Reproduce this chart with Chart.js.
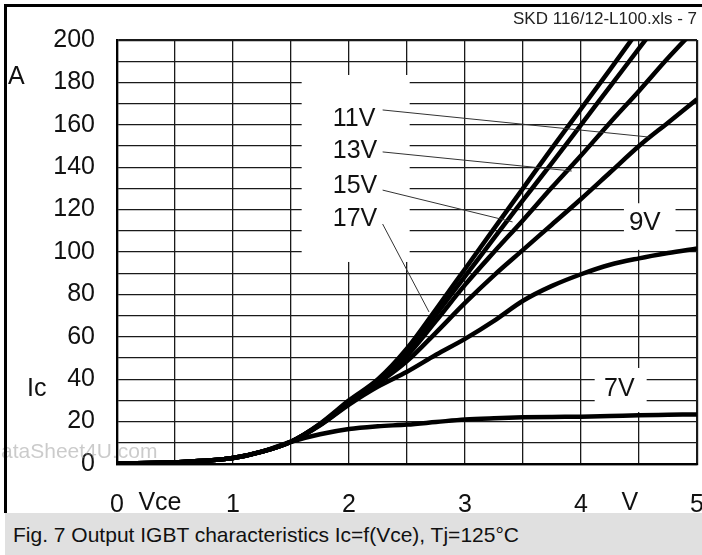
<!DOCTYPE html>
<html>
<head>
<meta charset="utf-8">
<script src="https://cdn.jsdelivr.net/npm/chart.js@4.4.0/dist/chart.umd.min.js"></script>
<style>
  body { margin: 0; background: #fff; }
  #wrap { position: relative; width: 702px; height: 555px; overflow: hidden; font-family: "Liberation Sans", Arial, sans-serif; }
  #chartBox { position: absolute; left: 0; top: 0; width: 702px; height: 513px; }
  .frameTop { position: absolute; left: 4px; top: 4px; width: 698px; height: 3px; background: #000; }
  .frameLeft { position: absolute; left: 4px; top: 4px; width: 3px; height: 509px; background: #000; }
  #header { position: absolute; right: 5px; top: 9px; font-size: 17px; color: #222; }
  #caption { position: absolute; left: 5px; top: 513px; width: 697px; height: 42px; background: #e0e0e0;
             font-size: 21px; line-height: 44px; padding-left: 8px; box-sizing: border-box; color: #111; white-space: nowrap; }
</style>
</head>
<body>
<div id="wrap">
  <div id="chartBox"><canvas id="igbtChart"></canvas></div>
  <div class="frameTop"></div>
  <div class="frameLeft"></div>
  <div id="header">SKD 116/12-L100.xls - 7</div>
  <div id="caption">Fig. 7 Output IGBT characteristics Ic=f(Vce), Tj=125°C</div>
</div>
<script>
// --- data (Vce in V, Ic in A) ---
const vce   = [0, 0.5, 1, 1.25, 1.5, 1.75, 2, 2.25, 2.5, 2.75, 3, 3.25, 3.5, 3.75, 4, 4.25, 4.5, 4.75, 5];
const ic17V = [0.3, 0.8, 2.8, 5.8, 10.5, 19, 30, 40, 54.5, 73, 92, 111, 130, 149, 167.5, 186, 205, 224, 243];
const ic15V = [0.3, 0.8, 2.8, 5.8, 10.5, 18.8, 29.5, 39.5, 52.5, 70.5, 88.5, 106.5, 124.5, 142, 160, 178, 196, 214, 232];
const ic13V = [0.3, 0.8, 2.8, 5.8, 10.5, 18.6, 29, 39, 51, 67.5, 84.5, 100, 115, 130.5, 145.5, 161, 176, 191.5, 206];
const ic11V = [0.3, 0.8, 2.8, 5.8, 10.5, 18.4, 28.5, 38, 48.5, 62, 76, 89, 101, 113, 125, 137.5, 150, 161, 172];
const ic9V  = [0.3, 0.8, 2.8, 5.8, 10.5, 18.2, 28, 36.5, 43.5, 51.5, 59, 67.5, 77, 84, 89.5, 94, 97, 99.5, 101.7];
const ic7V  = [0.3, 0.8, 2.8, 5.8, 10.5, 14, 16.5, 17.8, 18.6, 19.8, 21, 21.6, 22, 22.2, 22.3, 22.6, 23, 23.2, 23.4];

const seriesList = [ic17V, ic15V, ic13V, ic11V, ic9V, ic7V];
const gateNames  = ['17V', '15V', '13V', '11V', '9V', '7V'];

const toPoints = arr => vce.map((v, i) => ({ x: v, y: arr[i] }));

// --- annotation layout (in axis units) ---
const whiteBoxes = [
    { x0: 1.592, x1: 2.523, y0: 95.3, y1: 183.5 },
    { x0: 4.37,  x1: 4.815, y0: 101,  y1: 123 },
    { x0: 4.118, x1: 4.566, y0: 24.5, y1: 45.3 }
];
const curveLabels = [
    { text: '11V', x: 1.86, y: 162.7, size: 25, align: 'left' },
    { text: '13V', x: 1.86, y: 147.6, size: 25, align: 'left' },
    { text: '15V', x: 1.86, y: 131.1, size: 25, align: 'left' },
    { text: '17V', x: 1.86, y: 115.6, size: 25, align: 'left' },
    { text: '9V',  x: 4.55, y: 113.7, size: 26, align: 'center' },
    { text: '7V',  x: 4.33, y: 35.4,  size: 25, align: 'center' }
];
const leaders = [
    [2.29, 167.0, 4.59, 154.2],
    [2.29, 147.2, 3.92, 138.2],
    [2.29, 129.2, 3.41, 114.2],
    [2.29, 113.2, 2.69, 71.7]
];

const FONT = '"Liberation Sans", Arial, sans-serif';

const annotate = {
    id: 'annotate',
    beforeDatasetsDraw(chart) {
        const { ctx, scales: { x, y } } = chart;
        ctx.save();
        ctx.fillStyle = '#fff';
        whiteBoxes.forEach(b => {
            const px0 = x.getPixelForValue(b.x0), px1 = x.getPixelForValue(b.x1);
            const py0 = y.getPixelForValue(b.y1), py1 = y.getPixelForValue(b.y0);
            ctx.fillRect(px0, py0, px1 - px0, py1 - py0);
        });
        // faint watermark
        ctx.fillStyle = 'rgba(140,140,140,0.45)';
        ctx.font = '21px ' + FONT;
        ctx.textBaseline = 'middle';
        ctx.fillText('ataSheet4U.com', 1, 452);
        ctx.restore();
    },
    afterDatasetsDraw(chart) {
        const { ctx, scales: { x, y }, chartArea } = chart;
        ctx.save();
        ctx.strokeStyle = '#333';
        ctx.lineWidth = 1;
        leaders.forEach(l => {
            ctx.beginPath();
            ctx.moveTo(x.getPixelForValue(l[0]), y.getPixelForValue(l[1]));
            ctx.lineTo(x.getPixelForValue(l[2]), y.getPixelForValue(l[3]));
            ctx.stroke();
        });
        ctx.fillStyle = '#111';
        ctx.textBaseline = 'middle';
        curveLabels.forEach(t => {
            ctx.font = t.size + 'px ' + FONT;
            ctx.textAlign = t.align;
            ctx.fillText(t.text, x.getPixelForValue(t.x), y.getPixelForValue(t.y));
        });
        // axis names
        ctx.font = '25px ' + FONT;
        ctx.textAlign = 'center';
        ctx.fillText('Vce', x.getPixelForValue(0.37), 503);
        ctx.fillText('V', x.getPixelForValue(4.42), 503);
        ctx.textAlign = 'left';
        ctx.fillText('A', 8, 77);
        ctx.fillText('Ic', 27, 389);
        ctx.restore();
    }
};

new Chart(document.getElementById('igbtChart'), {
    type: 'line',
    data: {
        datasets: seriesList.map((arr, i) => ({
            label: gateNames[i],
            data: toPoints(arr),
            borderColor: '#000',
            borderWidth: 4.5,
            pointRadius: 0,
            cubicInterpolationMode: 'monotone',
            fill: false,
            clip: 0
        }))
    },
    options: {
        responsive: true,
        maintainAspectRatio: false,
        animation: false,
        layout: { padding: { left: 0, right: 5, top: 40, bottom: 0 } },
        plugins: { legend: { display: false }, tooltip: { enabled: false } },
        scales: {
            x: {
                type: 'linear', min: 0, max: 5,
                afterFit: s => { s.height = 49; s.paddingLeft = 0; s.paddingRight = 0; },
                ticks: {
                    stepSize: 0.5, autoSkip: false, maxRotation: 0, padding: 26, color: '#111',
                    font: { family: FONT, size: 25 },
                    callback: v => Number.isInteger(v) ? String(v) : ''
                },
                grid: {
                    drawTicks: false, color: '#1a1a1a',
                    lineWidth: c => (c.tick && (c.tick.value === 0 || c.tick.value === 5)) ? 2.2 : 1.3
                },
                border: { color: '#000', width: 2.2 }
            },
            y: {
                type: 'linear', min: 0, max: 200,
                afterFit: s => { s.width = 117; s.paddingTop = 0; s.paddingBottom = 0; },
                ticks: {
                    stepSize: 10, autoSkip: false, padding: 22, color: '#111',
                    font: { family: FONT, size: 25 },
                    callback: v => v % 20 === 0 ? String(v) : ''
                },
                grid: {
                    drawTicks: false, color: '#1a1a1a',
                    lineWidth: c => (c.tick && (c.tick.value === 0 || c.tick.value === 200)) ? 2.2 : 1.3
                },
                border: { color: '#000', width: 2.2 }
            }
        }
    },
    plugins: [annotate]
});
</script>
</body>
</html>
